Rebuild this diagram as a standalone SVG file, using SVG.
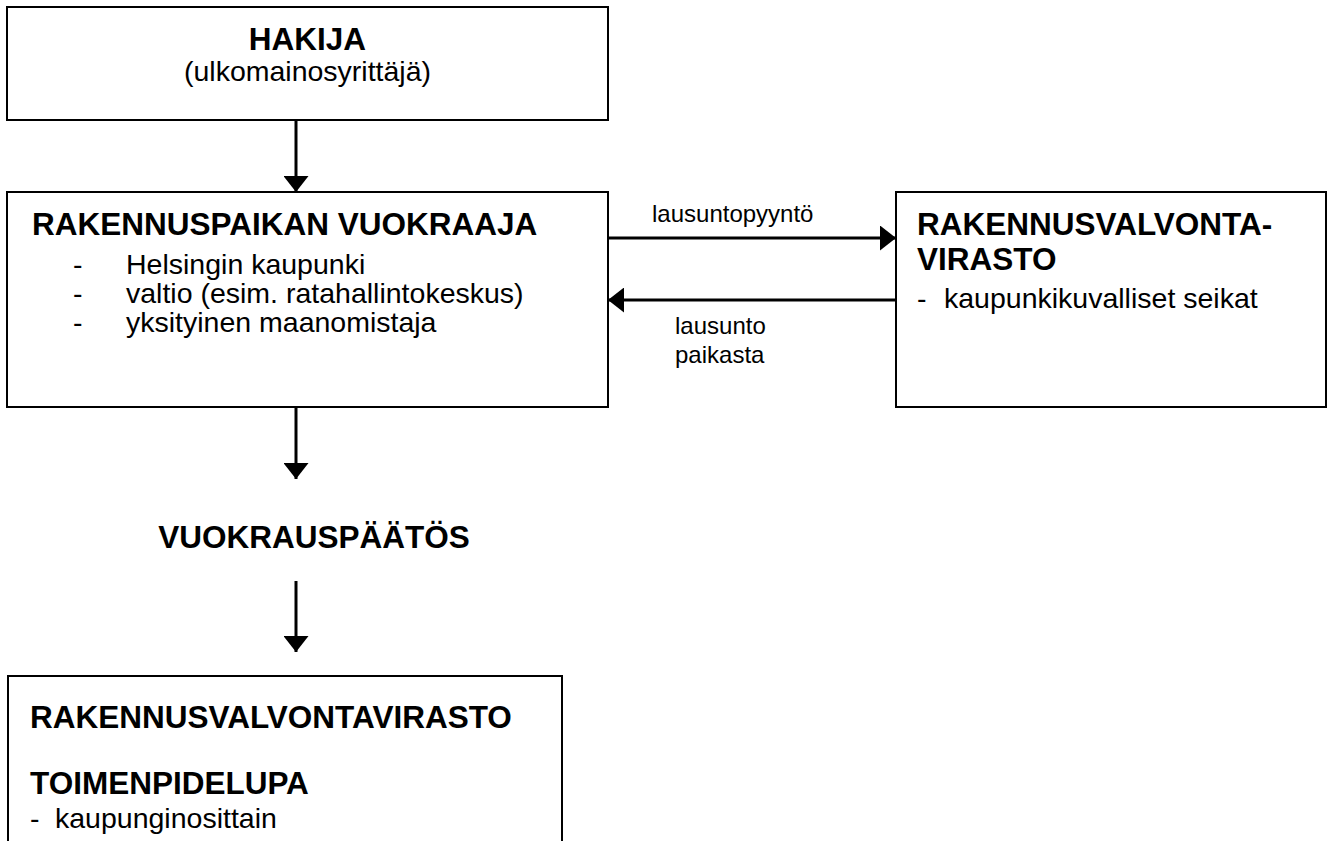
<svg xmlns="http://www.w3.org/2000/svg" width="1335" height="841" viewBox="0 0 1335 841">
<style>
.box{fill:#fff;stroke:#000;stroke-width:2}
.b{font-family:"Liberation Sans",Arial,sans-serif;font-weight:bold;font-size:31.5px;fill:#000}
.r{font-family:"Liberation Sans",Arial,sans-serif;font-size:28.5px;fill:#000}
.s{font-family:"Liberation Sans",Arial,sans-serif;font-size:24px;fill:#000}
.c{stroke:#000;stroke-width:3;fill:none;marker-end:url(#ah)}
</style>
<defs>
<marker id="ah" markerUnits="userSpaceOnUse" markerWidth="17" markerHeight="25" refX="16" refY="12.5" orient="auto">
<path d="M0,0 L16,12.5 L0,25 z" fill="#000"/>
</marker>
</defs>
<rect width="1335" height="841" fill="#fff"/>
<g id="hakija">
<rect class="box" x="7" y="7" width="601" height="113"/>
<text class="b" x="307.5" y="50" text-anchor="middle">HAKIJA</text>
<text class="r" x="307.5" y="81" text-anchor="middle">(ulkomainosyrittäjä)</text>
</g>
<g id="vuokraaja">
<rect class="box" x="7" y="192" width="601" height="215"/>
<text class="b" x="32" y="235">RAKENNUSPAIKAN VUOKRAAJA</text>
<text class="r" x="73" y="274">-</text><text class="r" x="126" y="274">Helsingin kaupunki</text>
<text class="r" x="73" y="303">-</text><text class="r" x="126" y="303">valtio (esim. ratahallintokeskus)</text>
<text class="r" x="73" y="332">-</text><text class="r" x="126" y="332">yksityinen maanomistaja</text>
</g>
<g id="rakennusvalvonta1">
<rect class="box" x="896" y="192" width="430" height="215"/>
<text class="b" x="917" y="235">RAKENNUSVALVONTA-</text>
<text class="b" x="917" y="270">VIRASTO</text>
<text class="r" x="917" y="308">-</text><text class="r" x="944" y="308">kaupunkikuvalliset seikat</text>
</g>
<g id="vuokrauspaatos">
<text class="b" x="314" y="548" text-anchor="middle">VUOKRAUSPÄÄTÖS</text>
</g>
<g id="toimenpidelupa">
<path d="M8,842 L8,676 L562,676 L562,842" fill="#fff" stroke="#000" stroke-width="2"/>
<text class="b" x="30" y="728">RAKENNUSVALVONTAVIRASTO</text>
<text class="b" x="30" y="794">TOIMENPIDELUPA</text>
<text class="r" x="30" y="828">-</text><text class="r" x="55" y="828">kaupunginosittain</text>
</g>
<g id="connectors">
<line class="c" x1="296" y1="120" x2="296" y2="192"/>
<line class="c" x1="608" y1="238" x2="896" y2="238"/>
<line class="c" x1="896" y1="300" x2="608" y2="300"/>
<line class="c" x1="296" y1="408" x2="296" y2="479"/>
<line class="c" x1="296" y1="581" x2="296" y2="652"/>
<text class="s" x="652" y="222">lausuntopyyntö</text>
<text class="s" x="675" y="334">lausunto</text>
<text class="s" x="675" y="363">paikasta</text>
</g>
</svg>
